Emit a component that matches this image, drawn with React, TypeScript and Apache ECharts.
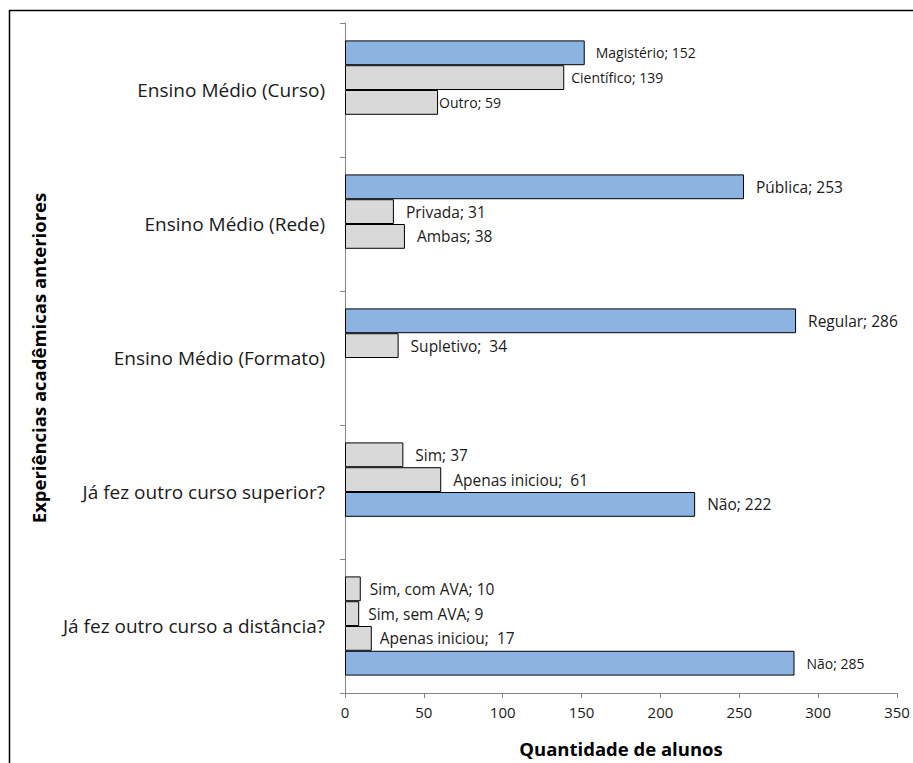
import React, { useEffect, useRef } from "react";
import * as echarts from "echarts";

const categories = [
  "Ensino Médio (Curso)",
  "Ensino Médio (Rede)",
  "Ensino Médio (Formato)",
  "Já fez outro curso superior?",
  "Já fez outro curso a distância?",
];

// Each slot = a bar position within a category (top to bottom)
const slot1Names = ["Magistério", "Pública", "Regular", "Sim", "Sim, com AVA"];
const slot1Values = [152, 253, 286, 37, 10];
const slot2Names = ["Científico", "Privada", "Supletivo", "Apenas iniciou", "Sim, sem AVA"];
const slot2Values = [139, 31, 34, 61, 9];
const slot3Names = ["Outro", "Ambas", "", "Não", "Apenas iniciou"];
const slot3Values: (number | null)[] = [59, 38, null, 222, 17];
const slot4Names = ["", "", "", "", "Não"];
const slot4Values: (number | null)[] = [null, null, null, null, 285];

// which items are highlighted (blue)
const blueItems = ["0-0", "1-0", "2-0", "3-2", "4-3"];
const smallLabels = ["0-0", "0-1", "0-2", "4-3"];
const wideSepLabels = ["2-1", "3-1", "4-2"];
const labelDistances: Record<string, number> = { "0-0": 11, "0-1": 7, "0-2": 1, "4-0": 9, "4-1": 9, "4-2": 8 };

const xTicks = [0, 50, 100, 150, 200, 250, 300, 350];

const BLUE = "#8db3e2";
const GRAY = "#d9d9d9";
const FONT = "'Open Sans', 'Noto Sans', sans-serif";

function buildSeries(names: string[], values: (number | null)[], slot: number) {
  return {
    type: "bar",
    name: "slot" + slot,
    barGap: "0%",
    barCategoryGap: "26%",
    data: values.map((v, ci) => {
      if (v === null) return "-";
      const key = ci + "-" + slot;
      const small = smallLabels.includes(key);
      const sep = wideSepLabels.includes(key) ? ";  " : "; ";
      return {
        value: v,
        itemStyle: {
          color: blueItems.includes(key) ? BLUE : GRAY,
          borderColor: "#000",
          borderWidth: 1,
        },
        label: {
          show: true,
          position: "right",
          distance: labelDistances[key] ?? 12,
          formatter: names[ci] + sep + v,
          fontSize: small ? 14 : 15.5,
          color: "#1a1a1a",
          fontFamily: FONT,
        },
      };
    }),
  };
}

export default function App() {
  const ref = useRef<HTMLDivElement>(null);
  useEffect(() => {
    if (!ref.current) return;
    const chart = echarts.init(ref.current, undefined, { renderer: "svg" });
    chart.setOption({
      animation: false,
      backgroundColor: "#fff",
      grid: { left: 345, right: 16, top: 23, bottom: 70 },
      xAxis: {
        type: "value",
        min: 0,
        max: 350,
        interval: 50,
        name: "Quantidade de alunos",
        nameLocation: "middle",
        nameGap: 46,
        nameTextStyle: { fontSize: 18.5, fontWeight: "bold", color: "#000", fontFamily: FONT },
        axisLine: { show: true, lineStyle: { color: "#868686", width: 1 } },
        axisTick: { show: true, length: 5, lineStyle: { color: "#868686" } },
        axisLabel: {
          color: "#1a1a1a",
          fontSize: 15,
          margin: 11,
          fontFamily: FONT,
          formatter: (v: number) => (xTicks.includes(v) ? String(v) : ""),
        },
        splitLine: { show: false },
      },
      yAxis: {
        type: "category",
        inverse: true,
        data: categories,
        name: "Experiências acadêmicas anteriores",
        nameLocation: "middle",
        nameGap: 297,
        nameTextStyle: { fontSize: 18.5, fontWeight: "bold", color: "#000", fontFamily: FONT },
        axisLine: { show: true, lineStyle: { color: "#868686", width: 1 } },
        axisTick: { show: true, length: 5, lineStyle: { color: "#868686" } },
        axisLabel: { color: "#1a1a1a", fontSize: 19, margin: 20, fontFamily: FONT },
      },
      graphic: [
        {
          type: "rect",
          shape: { x: 9.5, y: 10.5, width: 960, height: 800 },
          style: { fill: "none", stroke: "#000", lineWidth: 1.5 },
          silent: true,
        },
      ],
      series: [
        buildSeries(slot1Names, slot1Values, 0),
        buildSeries(slot2Names, slot2Values, 1),
        buildSeries(slot3Names, slot3Values, 2),
        buildSeries(slot4Names, slot4Values, 3),
      ],
    });
    return () => chart.dispose();
  }, []);
  return (
    <div
      ref={ref}
      style={{ position: "fixed", left: 0, top: 0, width: 913, height: 763 }}
    />
  );
}
